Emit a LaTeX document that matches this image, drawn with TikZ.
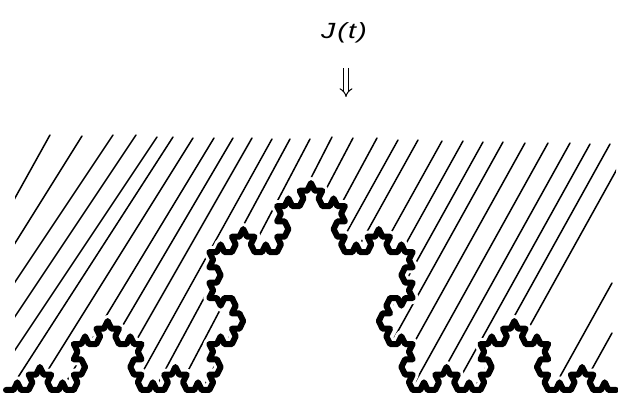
\documentclass[tikz,border=0pt]{standalone}
\usepackage{fontspec}
\setmainfont{Liberation Sans}
\usetikzlibrary{arrows.meta}

% recursive Koch curve: level, x1, y1, x2, y2 ; appends "--(x,y)" points to \kochlist
\newcommand\kochrec[5]{%
  \ifnum#1=0\relax
    \xdef\kochlist{\kochlist --(#4,#5)}%
  \else
    \begingroup
      \pgfmathsetmacro\kdx{((#4)-(#2))/3}%
      \pgfmathsetmacro\kdy{((#5)-(#3))/3}%
      \pgfmathsetmacro\kax{(#2)+\kdx}%
      \pgfmathsetmacro\kay{(#3)+\kdy}%
      \pgfmathsetmacro\kbx{(#2)+2*\kdx}%
      \pgfmathsetmacro\kby{(#3)+2*\kdy}%
      \pgfmathsetmacro\kpx{(#2)+1.5*\kdx-0.8660254*\kdy}%
      \pgfmathsetmacro\kpy{(#3)+1.5*\kdy+0.8660254*\kdx}%
      \pgfmathtruncatemacro\klv{#1-1}%
      \edef\knext{%
        \noexpand\kochrec{\klv}{#2}{#3}{\kax}{\kay}%
        \noexpand\kochrec{\klv}{\kax}{\kay}{\kpx}{\kpy}%
        \noexpand\kochrec{\klv}{\kpx}{\kpy}{\kbx}{\kby}%
        \noexpand\kochrec{\klv}{\kbx}{\kby}{#4}{#5}%
      }%
    \expandafter\endgroup\knext
  \fi}

\begin{document}
\begin{tikzpicture}[x=1pt,y=1pt,
  hatchline/.style={line width=1.5pt, line cap=round},
  kochline/.style={line width=6pt, line join=round, line cap=round},
  kochhalo/.style={white, line width=12pt, line join=round},
  kochtf/.style={shift={(0,5)}, yscale=1.175},
  jlabel/.style={font=\fontsize{22}{26}\selectfont\itshape, inner sep=0pt},
  implarrow/.style={double, double distance=3.5pt, line width=1pt, -{Implies}}]
\gdef\kochlist{}
\kochrec{4}{6}{0}{616}{0}
\useasboundingbox (0,0) rectangle (618,395);

% label and arrow
\node[jlabel, xscale=1.3, transform shape] (jt) at (344,362) {J\kern1.5pt(\kern1pt t\kern1pt)};
\coordinate (atop) at (346,327);
\coordinate (abot) at (346,298);
\draw[implarrow] (atop) -- (abot);

% hatching above the fractal boundary
\begin{scope}
  \clip (15,0) rectangle (640,395);
  \clip[kochtf] (6,0) \kochlist -- (616,400) -- (6,400) -- cycle;
  \foreach \xt/\yt/\s in {50/135/1.8, 82/136/1.6, 113/135/1.5, 136/135/1.5,
      157/137/1.5, 173/137/1.55, 193/138/1.6, 214/138/1.65, 233/138/1.7,
      252/138/1.75, 272/139/1.8, 290/139/1.85, 310/139/1.9, 332/137/1.95,
      353/138/1.9, 377/138/1.85, 398/140/1.8, 418/140/1.8, 442/141/1.8,
      463/141/1.8, 483/142/1.8, 503/142/1.8, 525/143/1.8, 548/143/1.8,
      570/143/1.8, 590/144/1.8, 610/144/1.8, 622/160/1.8, 612/283/1.8,
      612/333/1.8}
    \draw[hatchline] (\xt,395-\yt) -- ++(-300,-300*\s);
\end{scope}

% fractal boundary
\draw[kochhalo, kochtf] (6,0) \kochlist;
\draw[kochline, kochtf] (6,0) \kochlist;
\end{tikzpicture}
\end{document}
